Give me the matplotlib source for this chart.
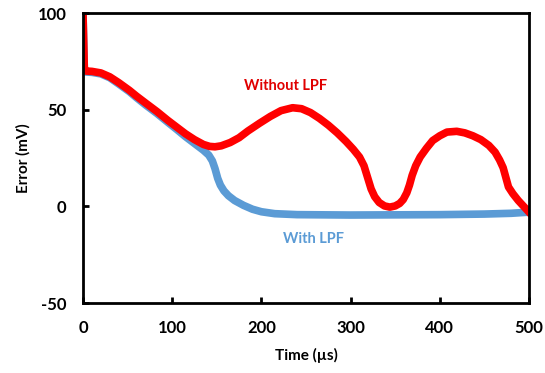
import matplotlib.pyplot as plt

# values (time in us, error in mV)
red_t = [0, 1.5, 3, 10, 20, 30, 40, 52, 60, 70, 83, 95, 105, 115, 125, 135,
         142, 148, 155, 165, 175, 185, 198, 210, 222, 235, 245, 255, 265, 275,
         285, 295, 303, 310, 315, 319, 323, 327, 332, 338, 344, 350, 355, 359,
         363, 366, 369, 373, 378, 385, 392, 400, 408, 419, 428, 437, 446, 455,
         462, 467, 471, 474, 477, 482, 488, 494, 500]
red_err = [100, 71, 70, 69.8, 69, 67, 64, 60, 57, 53.5, 49, 44.5, 41, 37.5,
           34.5, 32, 31, 30.8, 31.3, 33, 35.5, 39, 43, 46.5, 49.5, 51, 50.5,
           48.5, 45.5, 42, 38, 33.5, 29.5, 25.5, 21, 15, 9, 5, 2, 0.2, -0.4,
           0.2, 1.5, 3.5, 7, 11, 16, 21, 25.5, 30, 34, 36.5, 38.4, 38.8, 38,
           36.5, 34.5, 31.5, 28, 24, 20, 15, 10, 6.5, 3, 0, -3]

blue_t = [0, 1.5, 3, 10, 20, 30, 40, 52, 60, 70, 83, 95, 105, 115, 125, 135,
          141, 145, 148, 151, 154, 158, 163, 170, 180, 190, 200, 215, 240, 300,
          400, 450, 480, 500]
blue_err = [100, 70.5, 69.5, 69.3, 68.5, 66.5, 63.3, 59.3, 56.2, 52.5, 48,
            43.5, 39.8, 36, 32.5, 29, 26.5, 23.5, 19.5, 14.5, 11, 8, 5.5, 3,
            0.5, -1.5, -2.8, -3.8, -4.3, -4.5, -4.3, -4, -3.6, -3]

xticks = [0, 100, 200, 300, 400, 500]
yticks = [-50, 0, 50, 100]

plt.rcParams['font.family'] = ['Lato', 'DejaVu Sans']
plt.rcParams['font.weight'] = 'bold'
plt.rcParams['axes.unicode_minus'] = False

fig = plt.figure(figsize=(5.45, 3.73), dpi=100)
ax = fig.add_axes([83 / 545, 70 / 373, 446 / 545, 290 / 373])

ax.plot(blue_t, blue_err, color='#5B9BD5', lw=5.5, solid_joinstyle='round')
ax.plot(red_t, red_err, color='#FF0000', lw=5.5, solid_joinstyle='round')

ax.text(227, 62, 'Without LPF', color='#E00000', fontsize=10.5,
        fontweight='bold', ha='center', va='center')
ax.text(258, -17, 'With LPF', color='#5B9BD5', fontsize=10.5,
        fontweight='bold', ha='center', va='center')

ax.set_xlim(0, 500)
ax.set_ylim(-50, 100)
ax.set_xticks(xticks)
ax.set_yticks(yticks)
ax.tick_params(direction='in', length=4, width=2, labelsize=12, pad=12)
for s in ax.spines.values():
    s.set_linewidth(2)

ax.set_xlabel('Time (µs)', fontsize=11, fontweight='bold', labelpad=9)
ax.set_ylabel('Error (mV)', fontsize=11, fontweight='bold', labelpad=5)

fig.savefig('out.png', dpi=100)
